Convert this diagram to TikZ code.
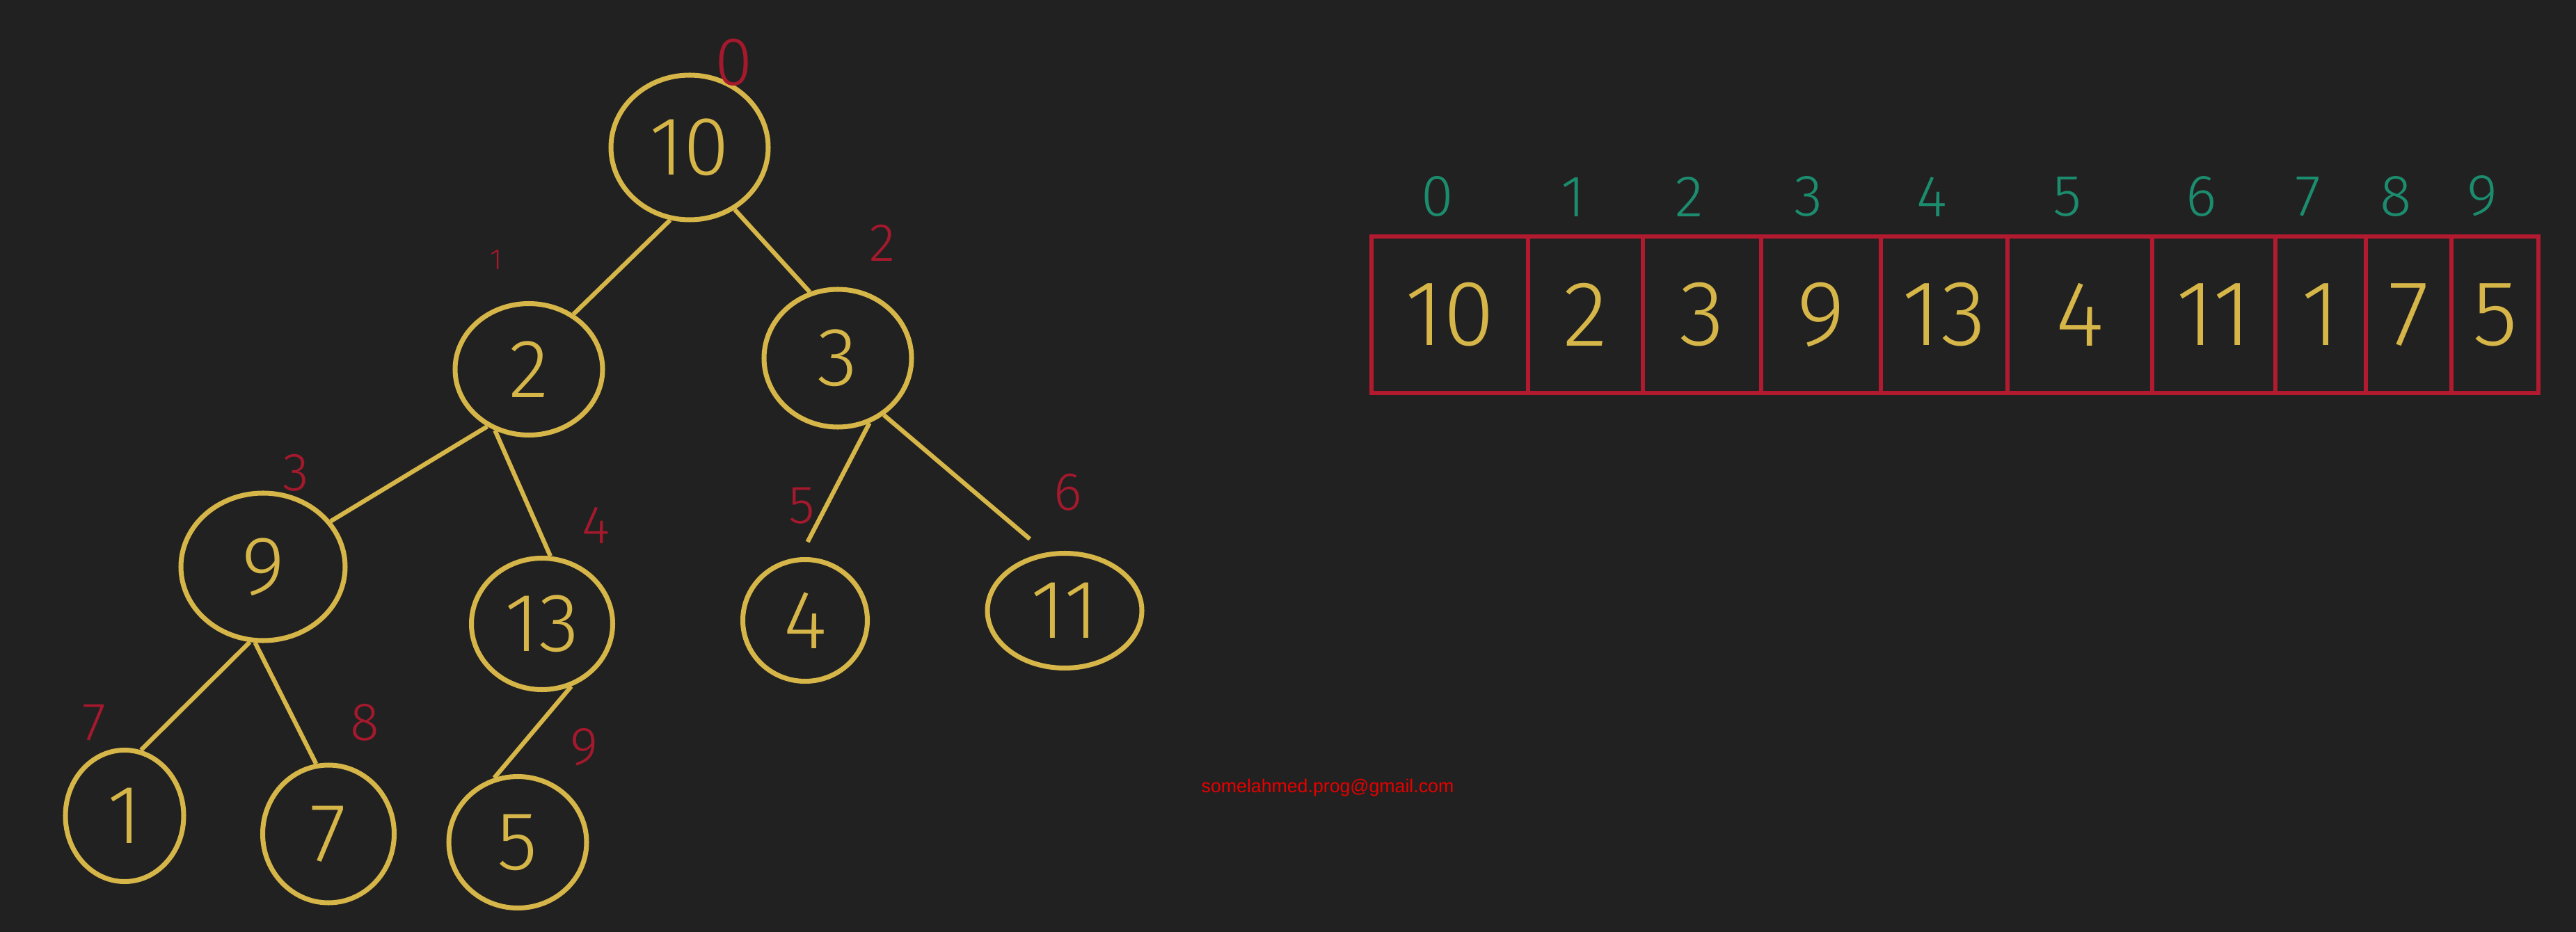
\documentclass[tikz,border=0pt]{standalone}
\usepackage{fontspec}
\newfontfamily\mao{Fira Sans Light}
\newfontfamily\mailfont{Liberation Sans}
\usetikzlibrary{positioning, shapes.geometric}
\definecolor{fundo}{RGB}{33,33,33}
\definecolor{amarelo}{RGB}{214,182,72}
\definecolor{vermelho}{RGB}{165,25,45}
\definecolor{vinho}{RGB}{178,26,48}
\definecolor{verdeagua}{RGB}{28,140,110}
\definecolor{emailred}{RGB}{230,0,0}
\tikzset{
  no/.style={
    draw=amarelo, line width=2pt, ellipse, inner sep=0pt,
    text=amarelo, font=\mao\fontsize{34}{34}\selectfont
  },
  aresta/.style={draw=amarelo, line width=1.8pt},
  indice/.style={text=vermelho, inner sep=0pt, font=\mao\fontsize{22}{22}\selectfont},
  celula/.style={
    draw=vinho, line width=1.6pt, minimum height=2.25cm, inner sep=0pt,
    text=amarelo, font=\mao\fontsize{38}{38}\selectfont
  },
  posicao/.style={text=verdeagua, inner sep=0pt, xshift=-0.18cm,
    font=\mao\fontsize{24}{24}\selectfont},
}

\begin{document}
\begin{tikzpicture}

\fill[fundo] (0,0) rectangle (37.02,-13.40);
\useasboundingbox (0,0) rectangle (37.02,-13.40);

% Arvore
\node[no, minimum width=2.26cm, minimum height=2.08cm] (n10) at (9.91,-2.12) {10};
\node[no, minimum width=2.12cm, minimum height=1.89cm] (n2) at (7.60,-5.31) {2};
\node[no, minimum width=2.12cm, minimum height=1.98cm] (n3) at (12.04,-5.15) {3};
\node[no, minimum width=2.36cm, minimum height=2.12cm] (n9) at (3.78,-8.15) {9};
\node[no, minimum width=2.03cm, minimum height=1.89cm] (n13) at (7.79,-8.97) {13};
\node[no, minimum width=1.79cm, minimum height=1.75cm] (n4) at (11.57,-8.92) {4};
\node[no, minimum width=2.22cm, minimum height=1.65cm] (n11) at (15.30,-8.78) {11};
\node[no, minimum width=1.70cm, minimum height=1.89cm] (n1) at (1.79,-11.73) {1};
\node[no, minimum width=1.89cm, minimum height=1.98cm] (n7) at (4.72,-11.99) {7};
\node[no, minimum width=1.98cm, minimum height=1.89cm] (n5) at (7.44,-12.11) {5};

\draw[aresta] (n10.255) -- (n2.51);
\draw[aresta] (n10.306) -- (n3.113);
\draw[aresta] (n2.234) -- (n9.34);
\draw[aresta] (n2.241) -- (n13.83);
\draw[aresta, shorten >=0.25cm] (n3.296) -- (n4.95);
\draw[aresta, shorten >=0.3cm] (n3.309) -- (n11.108);
\draw[aresta] (n9.260) -- (n1.76);
\draw[aresta] (n9.264) -- (n7.100);
\draw[aresta] (n13.295) -- (n5.110);

% Indices da arvore
\node[indice, font=\mao\fontsize{28}{28}\selectfont] (i0) at (10.55,-0.90) {0};
\node[indice, font=\mao\fontsize{12}{12}\selectfont] (i1) at (7.13,-3.73) {1};
\node[indice] (i2) at (12.68,-3.49) {2};
\node[indice] (i3) at (4.25,-6.80) {3};
\node[indice] (i4) at (8.57,-7.55) {4};
\node[indice] (i5) at (11.52,-7.27) {5};
\node[indice] (i6) at (15.35,-7.08) {6};
\node[indice] (i7) at (1.35,-10.39) {7};
\node[indice] (i8) at (5.24,-10.39) {8};
\node[indice] (i9) at (8.40,-10.74) {9};

% Vetor
\foreach \i/\xa/\xb/\v in {0/19.71/21.96/10, 1/21.96/23.61/2, 2/23.61/25.31/3,
    3/25.31/27.03/9, 4/27.03/28.85/13, 5/28.85/30.93/4, 6/30.93/32.70/11,
    7/32.70/34.00/1, 8/34.00/35.23/7, 9/35.23/36.48/5}{
  \node[celula, minimum width={(\xb-\xa)*1cm}] (c\i) at ({(\xa+\xb)/2},-4.525) {\v};
  \node[posicao, above=0.25cm of c\i] (p\i) {\i};
}

% Email
\node[text=emailred, font=\mailfont\fontsize{7.6}{9}\selectfont] (email) at (19.08,-11.33) {somelahmed.prog@gmail.com};

\end{tikzpicture}
\end{document}
